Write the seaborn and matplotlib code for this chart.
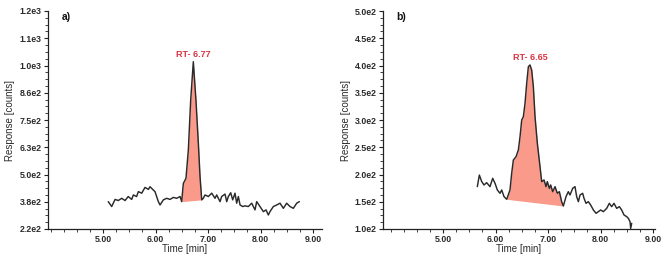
import numpy as np
import pandas as pd
import matplotlib
matplotlib.use("Agg")
import matplotlib.pyplot as plt
from matplotlib.ticker import AutoMinorLocator, MultipleLocator
import seaborn as sns

# ---------------- data ----------------
# panel a)
time_a = [5.10, 5.165, 5.23, 5.29, 5.356, 5.42, 5.48, 5.546, 5.578, 5.64, 5.673, 5.737,
          5.80, 5.864, 5.895, 5.959, 5.99, 6.054, 6.086, 6.149, 6.213, 6.276, 6.34, 6.403,
          6.467, 6.498, 6.53, 6.58, 6.625, 6.67, 6.72, 6.77, 6.816, 6.848, 6.88, 6.91,
          6.943, 7.006, 7.07, 7.133, 7.165, 7.229, 7.26, 7.324, 7.356, 7.387, 7.432, 7.47,
          7.514, 7.546, 7.578, 7.61, 7.66, 7.705, 7.768, 7.832, 7.895, 7.927, 7.99, 8.054,
          8.105, 8.149, 8.18, 8.244, 8.308, 8.371, 8.435, 8.498, 8.562, 8.625, 8.689, 8.74]
resp_a = [343, 321, 353, 348, 358, 348, 366, 353, 373, 366, 388, 381,
          407, 398, 410, 395, 388, 343, 328, 351, 358, 353, 362, 358,
          366, 343, 425, 448, 575, 800, 972, 800, 605, 455, 351, 358,
          373, 366, 381, 358, 373, 343, 366, 377, 343, 366, 383, 351,
          381, 336, 366, 328, 321, 324, 321, 336, 306, 343, 321, 298,
          306, 283, 298, 321, 328, 336, 313, 336, 321, 313, 336, 343]
peak_a = (6.498, 6.88)
rt_a = "RT- 6.77"
yticks_a = ["2.2e2", "3.8e2", "5.0e2", "6.3e2", "7.5e2", "8.6e2", "1.0e3", "1.1e3", "1.2e3"]
ylim_a = (220, 1200)

# panel b)
time_b = [5.654, 5.692, 5.737, 5.781, 5.832, 5.895, 5.946, 5.991, 6.035, 6.086, 6.118,
          6.162, 6.213, 6.276, 6.308, 6.34, 6.391, 6.435, 6.467, 6.499, 6.53, 6.562,
          6.594, 6.626, 6.657, 6.689, 6.721, 6.753, 6.797, 6.848, 6.88, 6.924, 6.962,
          6.987, 7.026, 7.051, 7.089, 7.134, 7.178, 7.216, 7.26, 7.292, 7.343, 7.387,
          7.419, 7.47, 7.514, 7.546, 7.578, 7.61, 7.66, 7.686, 7.724, 7.768, 7.813,
          7.864, 7.915, 7.959, 8.003, 8.054, 8.118, 8.168, 8.213, 8.257, 8.308, 8.359,
          8.403, 8.448, 8.499, 8.53, 8.562, 8.575, 8.594]
resp_b = [177.7, 199, 187, 180.8, 185, 177.7, 193, 183.8, 171.6, 165.5, 171.6,
          159.4, 154.5, 171.6, 202.2, 226.6, 232.8, 245, 269.5, 300, 306, 330.6,
          367.3, 397.9, 401, 391.8, 361.2, 306, 257.2, 214.4, 186.9, 190, 177.7,
          186.9, 174.6, 180.8, 168.5, 177.7, 165.5, 168.5, 150.2, 142.2, 159.4, 168.5,
          162.4, 174.6, 177.7, 159.4, 150.2, 162.4, 165.5, 156.3, 147.1, 150.2, 144,
          134.9, 128.8, 131.8, 134.9, 131.8, 137.9, 147.1, 141, 147.1, 137.9, 141,
          134.9, 125.7, 122.6, 119.6, 113.5, 101.2, 110.4]
peak_b = (6.213, 7.292)
rt_b = "RT- 6.65"
yticks_b = ["1.0e2", "1.5e2", "2.0e2", "2.5e2", "3.0e2", "3.5e2", "4.0e2", "4.5e2", "5.0e2"]
ylim_b = (100, 500)

xticks = [5, 6, 7, 8, 9]
xticklabels = ["5.00", "6.00", "7.00", "8.00", "9.00"]

# ---------------- style ----------------
sns.set_style("ticks")
plt.rcParams['font.family'] = ['Liberation Sans', 'DejaVu Sans']

LINE = "#2a2a2a"
FILL = "#F99A8A"
RED = "#D93545"
TXT = "#2b2b2b"

fig = plt.figure(figsize=(6.69, 2.58), dpi=100)
ax_a = fig.add_axes([48/669, 1-229/258, 274/669, 218/258])
ax_b = fig.add_axes([383/669, 1-229/258, 272/669, 218/258])


def draw(ax, t, r, peak, rt, ylabels, ylim, xlim, tag):
    df = pd.DataFrame({"t": t, "r": r})
    t = np.asarray(t, float)
    r = np.asarray(r, float)
    # peak area
    m = (t >= peak[0] - 1e-9) & (t <= peak[1] + 1e-9)
    tp, rp = t[m], r[m]
    base = np.interp(tp, [tp[0], tp[-1]], [rp[0], rp[-1]])
    ax.fill_between(tp, base, rp, color=FILL, lw=0, zorder=1)
    sns.lineplot(data=df, x="t", y="r", ax=ax, color=LINE, lw=1.05, sort=False, zorder=2)
    ip = int(np.argmax(r))
    ax.annotate(rt, (t[ip], r[ip]), xytext=(0, 2), textcoords="offset points",
                ha="center", va="bottom", color=RED, fontsize=6.5, fontweight="bold")
    ax.text(0.05, 0.972, tag, transform=ax.transAxes, ha="left", va="center",
            fontsize=7.5, fontweight="bold", color="#111")

    ax.set_xlim(*xlim)
    ax.set_ylim(*ylim)
    ax.set_yticks(np.linspace(ylim[0], ylim[1], len(ylabels)))
    ax.set_yticklabels(ylabels)
    ax.yaxis.set_minor_locator(AutoMinorLocator(4))
    ax.set_xticks(xticks)
    ax.set_xticklabels(xticklabels)
    ax.xaxis.set_minor_locator(MultipleLocator(0.25))
    ax.tick_params(axis="both", which="major", length=3, width=0.8, color="#222",
                   labelsize=6.3, labelcolor=TXT, pad=1.5)
    ax.tick_params(axis="both", which="minor", length=2, width=0.6, color="#222")
    for lab in ax.get_xticklabels() + ax.get_yticklabels():
        lab.set_fontweight("bold")
    ax.set_xlabel("Time [min]", fontsize=7, color=TXT, labelpad=0)
    ax.set_ylabel("Response [counts]", fontsize=7, color=TXT, labelpad=3)
    for s in ("top", "right"):
        ax.spines[s].set_visible(False)
    for s in ("left", "bottom"):
        ax.spines[s].set_linewidth(0.9)
        ax.spines[s].set_color("#222")


draw(ax_a, time_a, resp_a, peak_a, rt_a, yticks_a, ylim_a, (3.952, 9.171), "a)")
draw(ax_b, time_b, resp_b, peak_b, rt_b, yticks_b, ylim_b, (3.857, 9.038), "b)")

fig.savefig("out.png", dpi=100)
